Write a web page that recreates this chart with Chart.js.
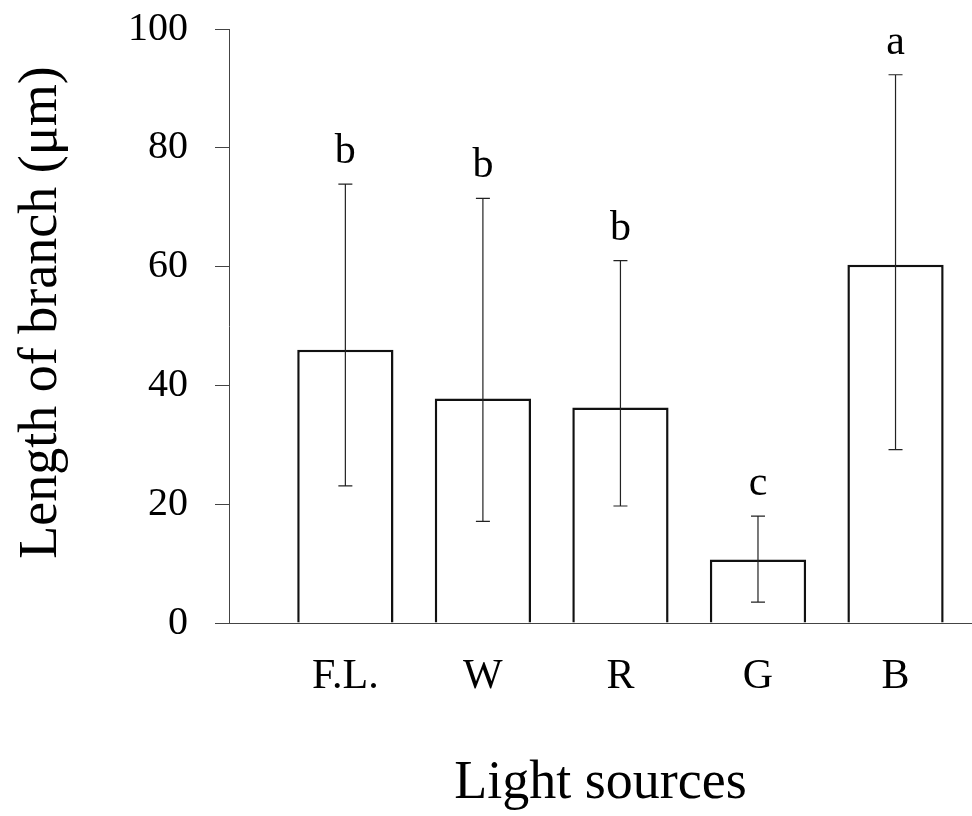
<!DOCTYPE html>
<html>
<head>
<meta charset="utf-8">
<script src="https://cdn.jsdelivr.net/npm/chart.js@4/dist/chart.umd.min.js"></script>
<style>
  html, body { margin: 0; padding: 0; background: #fff; }
  #wrap { width: 972px; height: 816px; }
</style>
</head>
<body>
<div id="wrap"><canvas id="branchChart"></canvas></div>
<script>
const categories = ['F.L.', 'W', 'R', 'G', 'B'];
const means = [46.0, 37.8, 36.3, 10.7, 60.3];
const upperErr = [73.9, 71.5, 61.0, 18.0, 92.3];
const lowerErr = [23.1, 17.1, 19.7, 3.5, 29.2];
const letters = ['b', 'b', 'b', 'c', 'a'];
const yTicks = [0, 20, 40, 60, 80, 100];

const serif = '"Liberation Serif", "Times New Roman", serif';

// error bars + significance letters, drawn through the chart scales
const errorBars = {
    id: 'errorBars',
    afterDatasetsDraw(chart) {
        const ctx = chart.ctx;
        const x = chart.scales.x;
        const y = chart.scales.y;
        ctx.save();
        ctx.strokeStyle = '#222';
        ctx.lineWidth = 1.2;
        ctx.fillStyle = '#000';
        ctx.font = '42px ' + serif;
        ctx.textAlign = 'center';
        ctx.textBaseline = 'alphabetic';
        categories.forEach(function (c, i) {
            const px = x.getPixelForValue(i);
            const top = y.getPixelForValue(upperErr[i]);
            const bot = y.getPixelForValue(lowerErr[i]);
            ctx.beginPath();
            ctx.moveTo(px, top); ctx.lineTo(px, bot);
            ctx.moveTo(px - 7, top); ctx.lineTo(px + 7, top);
            ctx.moveTo(px - 7, bot); ctx.lineTo(px + 7, bot);
            ctx.stroke();
            ctx.fillText(letters[i], px, top - 21);
        });
        ctx.restore();
    }
};

new Chart(document.getElementById('branchChart'), {
    type: 'bar',
    data: {
        datasets: [{
            data: means.map(function (v, i) { return { x: i, y: v }; }),
            backgroundColor: '#fff',
            borderColor: '#111',
            borderWidth: 2.5,
            barPercentage: 0.7,
            categoryPercentage: 1
        }]
    },
    options: {
        responsive: true,
        maintainAspectRatio: false,
        animation: false,
        layout: { padding: { top: 29, right: 0, left: 0, bottom: 0 } },
        plugins: {
            legend: { display: false },
            tooltip: { enabled: false }
        },
        scales: {
            x: {
                type: 'linear',
                offset: false,
                min: -0.846,
                max: 4.556,
                afterBuildTicks: function (s) {
                    s.ticks = categories.map(function (c, i) { return { value: i }; });
                },
                afterFit: function (s) {
                    s.height = 193;
                    s.paddingLeft = 0;
                    s.paddingRight = 0;
                },
                grid: { display: false, drawTicks: false },
                border: { display: true, color: '#444', width: 1 },
                ticks: {
                    padding: 29,
                    color: '#000',
                    font: { family: serif, size: 42 },
                    callback: function (v) { return categories[v]; }
                },
                title: {
                    display: true,
                    text: 'Light sources',
                    color: '#000',
                    font: { family: serif, size: 54 },
                    padding: { top: 0, bottom: 0 }
                }
            },
            y: {
                min: 0,
                max: 100,
                afterBuildTicks: function (s) {
                    s.ticks = yTicks.map(function (v) { return { value: v }; });
                },
                afterFit: function (s) {
                    s.width = 229;
                    s.paddingTop = 0;
                    s.paddingBottom = 0;
                },
                grid: {
                    drawOnChartArea: false,
                    drawTicks: true,
                    tickLength: 14,
                    color: '#444'
                },
                border: { display: true, color: '#444', width: 1 },
                ticks: {
                    padding: 27,
                    color: '#000',
                    font: { family: serif, size: 40 }
                },
                title: {
                    display: true,
                    text: '\u2002Length of branch (μm)',
                    color: '#000',
                    font: { family: serif, size: 54 },
                    padding: { top: 9, bottom: 0 }
                }
            }
        }
    },
    plugins: [errorBars]
});
</script>
</body>
</html>
